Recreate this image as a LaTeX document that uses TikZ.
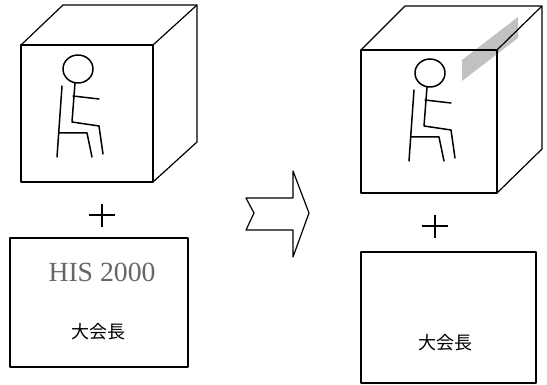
\documentclass[tikz,border=0pt]{standalone}
\usepackage{fontspec}
\setmainfont{Liberation Serif}
\newfontfamily\jpfont{Noto Sans CJK JP}

\begin{document}
\begin{tikzpicture}[x=1pt,y=-1pt,line join=round,
  edge/.style={line width=1.2pt},
  limb/.style={line width=1.5pt,line cap=round},
  sitter/.pic={
    \draw[limb] (0,0) ellipse (15 and 14);
    \draw[limb] (-3,14) -- (-6,53) -- (21,57) -- (25,85);
    \draw[limb] (-5,27) -- (21,30);
    \draw[limb] (-16,17) -- (-21,88);
    \draw[limb] (-19,64) -- (9,64) -- (14,88);
  }]
\useasboundingbox (0,0) rectangle (547,385);

% left cube
\draw[edge] (21,45) rectangle (153,182);
\draw[edge] (21,45) -- (63,5) -- (197,5) -- (197,142) -- (153,182);
\draw[edge] (153,45) -- (197,5);
\pic at (78,69) {sitter};

% right cube with the shaded strip
\fill[gray!60,opacity=.8] (462,60) -- (462,81) -- (518,38) -- (518,17) -- cycle;
\draw[edge] (361,50) rectangle (497,193);
\draw[edge] (361,50) -- (405,6) -- (542,6) -- (542,149) -- (497,193);
\draw[edge] (497,50) -- (542,6);
\pic at (430,73) {sitter};

% plus signs
\draw[edge] (89,215) -- (115,215) (102,204) -- (102,227);
\draw[edge] (422,226) -- (448,226) (435,215) -- (435,238);

% cards
\node[draw,edge,minimum width=178,minimum height=129] (card1) at (99,302.5) {};
\node[text=black!60,font=\fontsize{27.7}{30}\selectfont] (his) at (102,272) {HIS 2000};
\node[font=\jpfont\fontsize{18}{20}\selectfont] (chair1) at (98,332) {大会長};
\node[draw,edge,minimum width=175,minimum height=131] (card2) at (448.5,317.5) {};
\node[font=\jpfont\fontsize{18}{20}\selectfont] (chair2) at (445,343) {大会長};

% notched arrow
\draw[edge] (246,198) -- (293,198) -- (293,171) -- (309,213) -- (293,257)
  -- (293,230) -- (246,230) -- (254,213) -- cycle;
\end{tikzpicture}
\end{document}
